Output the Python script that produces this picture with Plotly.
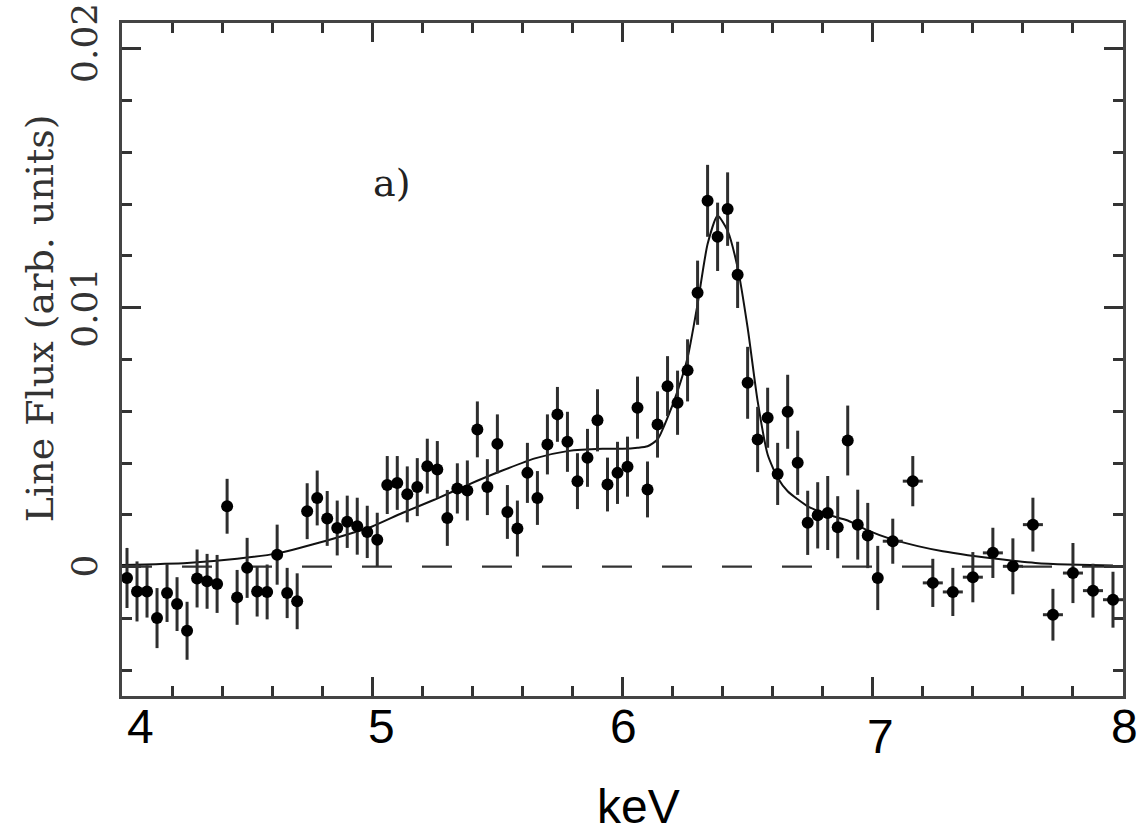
import plotly.graph_objects as go

# ---- data ----
energy_keV = [4.02, 4.06, 4.10, 4.14, 4.18, 4.22, 4.26, 4.30, 4.34, 4.38,
              4.42, 4.46, 4.50, 4.54, 4.58, 4.62, 4.66, 4.70, 4.74, 4.78,
              4.82, 4.86, 4.90, 4.94, 4.98, 5.02, 5.06, 5.10, 5.14, 5.18,
              5.22, 5.26, 5.30, 5.34, 5.38, 5.42, 5.46, 5.50, 5.54, 5.58,
              5.62, 5.66, 5.70, 5.74, 5.78, 5.82, 5.86, 5.90, 5.94, 5.98,
              6.02, 6.06, 6.10, 6.14, 6.18, 6.22, 6.26, 6.30, 6.34, 6.38,
              6.42, 6.46, 6.50, 6.54, 6.58, 6.62, 6.66, 6.70, 6.74, 6.78,
              6.82, 6.86, 6.90, 6.94, 6.98, 7.02, 7.08, 7.16, 7.24, 7.32,
              7.40, 7.48, 7.56, 7.64, 7.72, 7.80, 7.88, 7.96]

line_flux = [-0.00044, -0.00096, -0.00096, -0.00199, -0.00102, -0.00145, -0.00248, -0.00046, -0.00057, -0.00067,
             0.00233, -0.00119, -0.00005, -0.00096, -0.00098, 0.00046, -0.00102, -0.00134, 0.00214, 0.00265,
             0.00186, 0.00149, 0.00173, 0.00156, 0.00134, 0.00104, 0.00315, 0.00323, 0.00279, 0.00307,
             0.00388, 0.00375, 0.00188, 0.00302, 0.00294, 0.00530, 0.00307, 0.00474, 0.00211, 0.00147,
             0.00362, 0.00265, 0.00472, 0.00588, 0.00482, 0.00330, 0.00420, 0.00565, 0.00317, 0.00362,
             0.00386, 0.00614, 0.00298, 0.00549, 0.00697, 0.00633, 0.00758, 0.01058, 0.01413, 0.01274,
             0.01381, 0.01127, 0.00710, 0.00491, 0.00575, 0.00358, 0.00598, 0.00401, 0.00169, 0.00198,
             0.00207, 0.00152, 0.00487, 0.00162, 0.00120, -0.00044, 0.00098, 0.00330, -0.00063, -0.00098,
             -0.00041, 0.00053, 0.00001, 0.00162, -0.00186, -0.00025, -0.00093, -0.00128]

flux_err = [0.00116, 0.00116, 0.00101, 0.00116, 0.00112, 0.00104, 0.00112, 0.00112, 0.00106, 0.00112,
            0.00106, 0.00106, 0.00116, 0.00097, 0.00106, 0.00116, 0.00097, 0.00108, 0.00108, 0.00106,
            0.00106, 0.00106, 0.00101, 0.00110, 0.00101, 0.00104, 0.00112, 0.00104, 0.00108, 0.00112,
            0.00106, 0.00110, 0.00108, 0.00097, 0.00116, 0.00108, 0.00108, 0.00114, 0.00104, 0.00108,
            0.00116, 0.00104, 0.00116, 0.00106, 0.00116, 0.00108, 0.00112, 0.00120, 0.00104, 0.00120,
            0.00116, 0.00120, 0.00108, 0.00128, 0.00116, 0.00124, 0.00120, 0.00124, 0.00139, 0.00132,
            0.00142, 0.00128, 0.00139, 0.00126, 0.00116, 0.00120, 0.00143, 0.00124, 0.00124, 0.00128,
            0.00143, 0.00120, 0.00135, 0.00135, 0.00126, 0.00124, 0.00087, 0.00097, 0.00093, 0.00093,
            0.00097, 0.00097, 0.00108, 0.00104, 0.00100, 0.00116, 0.00104, 0.00108]

bin_halfwidth = [0.02] * 76 + [0.04] * 12

model_keV = [4.00, 4.26, 4.46, 4.62, 4.79, 4.92, 5.00, 5.12, 5.25, 5.38,
             5.52, 5.65, 5.78, 5.92, 6.00, 6.06, 6.10, 6.14, 6.18, 6.22,
             6.26, 6.30, 6.34, 6.38, 6.42, 6.46, 6.50, 6.54, 6.58, 6.62,
             6.66, 6.74, 6.82, 6.90, 6.98, 7.08, 7.18, 7.28, 7.38, 7.52,
             7.65, 7.78, 7.96]
model_flux = [0.00006, 0.00014, 0.00030, 0.00051, 0.00093, 0.00130, 0.00155, 0.00207, 0.00259, 0.00315,
              0.00371, 0.00418, 0.00446, 0.00455, 0.00455, 0.00459, 0.00465, 0.00491, 0.00575, 0.00678,
              0.00807, 0.01014, 0.01246, 0.01355, 0.01297, 0.01155, 0.00923, 0.00639, 0.00433, 0.00343,
              0.00291, 0.00233, 0.00201, 0.00178, 0.00140, 0.00104, 0.00079, 0.00059, 0.00044, 0.00027,
              0.00014, 0.00008, 0.00004]

x_tickvals = [4, 5, 6, 7, 8]
x_ticktext = ["4", "5", "6", "7", "8"]
y_tickvals = [0, 0.01, 0.02]
y_ticktext = ["0", "0.01", "0.02"]

x_title = "keV"
y_title = "Line Flux (arb. units)"
panel_label = "a)"
panel_label_pos = (5.078, 0.0148)

# label nudges in pixels (layout only), matching the pasted labels of the original figure
x_label_dx = [18, 9, 1, 8, 1]
x_label_dy = [-30, -30, -30, -40, -30]
y_label_dy = [0, 0, 6]

# ---- figure ----
fig = go.Figure()

fig.add_hline(y=0, line=dict(color="#333", width=2.2, dash="30px,30px"), layer="below")

fig.add_trace(go.Scatter(
    x=model_keV, y=model_flux, mode="lines",
    line=dict(color="#111", width=2, shape="spline", smoothing=0.6),
    hoverinfo="skip", showlegend=False))

fig.add_trace(go.Scatter(
    x=energy_keV, y=line_flux, mode="markers",
    marker=dict(color="black", size=12),
    error_y=dict(type="data", array=flux_err, visible=True, color="#2e2e2e", thickness=3, width=0),
    error_x=dict(type="data", array=bin_halfwidth, visible=True, color="#2e2e2e", thickness=3, width=0),
    showlegend=False))

fig.add_annotation(x=panel_label_pos[0], y=panel_label_pos[1], text=panel_label, showarrow=False,
                   font=dict(family="DejaVu Serif", size=38, color="#222"))

# x tick labels
for v, t, dx, dy in zip(x_tickvals, x_ticktext, x_label_dx, x_label_dy):
    fig.add_annotation(x=v, xref="x", y=0, yref="paper", text=t, showarrow=False,
                       xanchor="center", yanchor="middle", xshift=dx, yshift=dy,
                       font=dict(family="Liberation Sans", size=48, color="black"))

# y tick labels (rotated)
for v, t, dy in zip(y_tickvals, y_ticktext, y_label_dy):
    fig.add_annotation(x=0, xref="paper", y=v, yref="y", text=t, showarrow=False,
                       textangle=-90, xanchor="center", yanchor="middle", xshift=-37, yshift=dy,
                       font=dict(family="DejaVu Serif", size=36, color="#333"))

# axis titles
fig.add_annotation(x=0.5155, xref="paper", y=0, yref="paper", text=x_title, showarrow=False,
                   xanchor="center", yanchor="middle", yshift=-110,
                   font=dict(family="Liberation Sans", size=48, color="black"))
fig.add_annotation(x=0, xref="paper", y=0.5614, yref="paper", text=y_title, showarrow=False,
                   textangle=-90, xanchor="center", yanchor="middle", xshift=-82,
                   font=dict(family="DejaVu Serif", size=38, color="#333"))

axis_common = dict(
    showgrid=False, zeroline=False, showline=True, linewidth=3, linecolor="#444",
    mirror="allticks", ticks="inside", ticklen=19, tickwidth=2.5, tickcolor="#333",
    showticklabels=False, automargin=False,
)

fig.update_xaxes(
    range=[4, 8], tickmode="array", tickvals=x_tickvals,
    minor=dict(tickmode="linear", tick0=4, dtick=0.2, ticks="inside", ticklen=10,
               tickwidth=2.5, tickcolor="#333"),
    **axis_common)

fig.update_yaxes(
    range=[-0.005, 0.021], tickmode="array", tickvals=y_tickvals,
    minor=dict(tickmode="linear", tick0=0, dtick=0.002, ticks="inside", ticklen=10,
               tickwidth=2.5, tickcolor="#333"),
    **axis_common)

fig.update_layout(
    width=1138, height=836,
    margin=dict(l=122, r=15, t=23, b=140),
    plot_bgcolor="white", paper_bgcolor="white",
    showlegend=False,
)

fig.write_html("out.html")
